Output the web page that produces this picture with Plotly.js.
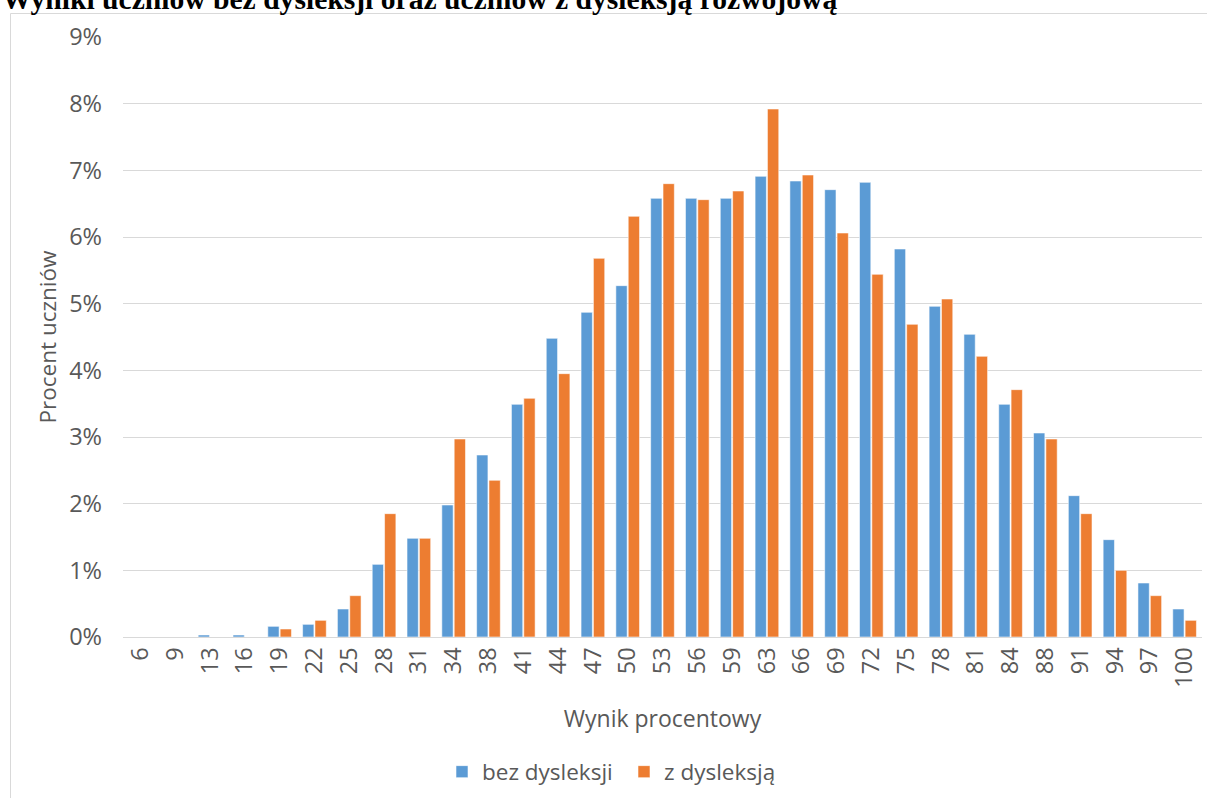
<!DOCTYPE html>
<html lang="pl">
<head>
<meta charset="utf-8">
<title>Wyniki uczniów bez dysleksji oraz uczniów z dysleksją rozwojową</title>
<script src="https://cdn.plot.ly/plotly-3.0.1.min.js"></script>
<style>
  html, body { margin: 0; padding: 0; background: #ffffff; }
  #chart { width: 1207px; height: 798px; }
</style>
</head>
<body>
<div id="chart"></div>
<script>
// Wynik procentowy (kategorie osi X)
const wyniki = ['6','9','13','16','19','22','25','28','31','34','38','41','44','47','50','53',
                '56','59','63','66','69','72','75','78','81','84','88','91','94','97','100'];

// Procent uczniów bez dysleksji
const bezDysleksji = [0, 0, 0.03, 0.03, 0.16, 0.19, 0.42, 1.09, 1.48, 1.98,
                      2.73, 3.49, 4.48, 4.87, 5.27, 6.58, 6.58, 6.58, 6.91, 6.84,
                      6.71, 6.82, 5.82, 4.96, 4.54, 3.49, 3.06, 2.12, 1.46, 0.81, 0.42];

// Procent uczniów z dysleksją rozwojową
const zDysleksja = [0, 0, 0, 0, 0.12, 0.25, 0.62, 1.85, 1.48, 2.97,
                    2.35, 3.58, 3.95, 5.68, 6.31, 6.80, 6.56, 6.69, 7.92, 6.93,
                    6.06, 5.44, 4.69, 5.07, 4.21, 3.71, 2.97, 1.85, 1.00, 0.62, 0.25];

// Oś Y: 0% .. 9%
const yTicks = [0, 1, 2, 3, 4, 5, 6, 7, 8, 9];

const textColor = '#595959';
const gridColor = '#D9D9D9';
const sans = '"Open Sans", "Noto Sans", sans-serif';

const W = 1207, H = 798;
const M = { l: 123, r: 5, t: 37, b: 161 };
const plotW = W - M.l - M.r, plotH = H - M.t - M.b;
// pixel -> paper coordinates
const px = x => (x - M.l) / plotW;
const py = y => (H - M.b - y) / plotH;

const traces = [
  {
    type: 'bar', name: 'bez dysleksji', x: wyniki, y: bezDysleksji,
    marker: { color: '#5B9BD5', line: { color: 'rgba(255,255,255,0.55)', width: 1 } }
  },
  {
    type: 'bar', name: 'z dysleksją', x: wyniki, y: zDysleksja,
    marker: { color: '#ED7D31', line: { color: 'rgba(255,255,255,0.55)', width: 1 } }
  }
];

const layout = {
  width: W, height: H,
  margin: { l: M.l, r: M.r, t: M.t, b: M.b, autoexpand: false },
  paper_bgcolor: '#ffffff', plot_bgcolor: '#ffffff',
  barmode: 'group', bargap: 0.29, bargroupgap: 0.085,
  showlegend: true,
  legend: {
    orientation: 'h', x: px(442), xanchor: 'left', y: py(772), yanchor: 'middle',
    font: { family: sans, size: 22.5, color: textColor },
    itemwidth: 30, entrywidth: 137, traceorder: 'normal'
  },
  xaxis: {
    type: 'category', tickangle: -90, showgrid: false, zeroline: false,
    showline: true, linecolor: gridColor, linewidth: 1, ticks: '',
    tickfont: { family: sans, size: 23.5, color: textColor },
    title: { text: 'Wynik procentowy', font: { family: sans, size: 23, color: textColor }, standoff: 24 }
  },
  yaxis: {
    range: [0, 9], tickvals: yTicks, ticktext: yTicks.map(v => v + '%'),
    showgrid: true, gridcolor: gridColor, gridwidth: 1, zeroline: false, showline: false,
    ticks: '', ticklabelstandoff: 20,
    tickfont: { family: sans, size: 23.5, color: textColor },
    title: { text: 'Procent uczniów', font: { family: sans, size: 22.5, color: textColor }, standoff: 6 }
  },
  annotations: [
    {
      text: 'Wyniki uczniów bez dysleksji oraz uczniów z dysleksją rozwojową',
      xref: 'paper', yref: 'paper', x: px(0), y: py(17), xanchor: 'left', yanchor: 'bottom',
      showarrow: false,
      font: { family: '"Liberation Serif", "Times New Roman", serif', size: 29.6, color: '#000000', weight: 'bold' }
    }
  ],
  shapes: [
    // ramka wykresu (lewa i górna krawędź)
    { type: 'line', xref: 'paper', yref: 'paper', x0: px(10.5), x1: px(10.5), y0: py(13.5), y1: py(800),
      line: { color: gridColor, width: 1 } },
    { type: 'line', xref: 'paper', yref: 'paper', x0: px(10.5), x1: px(1210), y0: py(13.5), y1: py(13.5),
      line: { color: gridColor, width: 1 } }
  ]
};

Plotly.newPlot('chart', traces, layout, { staticPlot: true, displayModeBar: false });
</script>
</body>
</html>
